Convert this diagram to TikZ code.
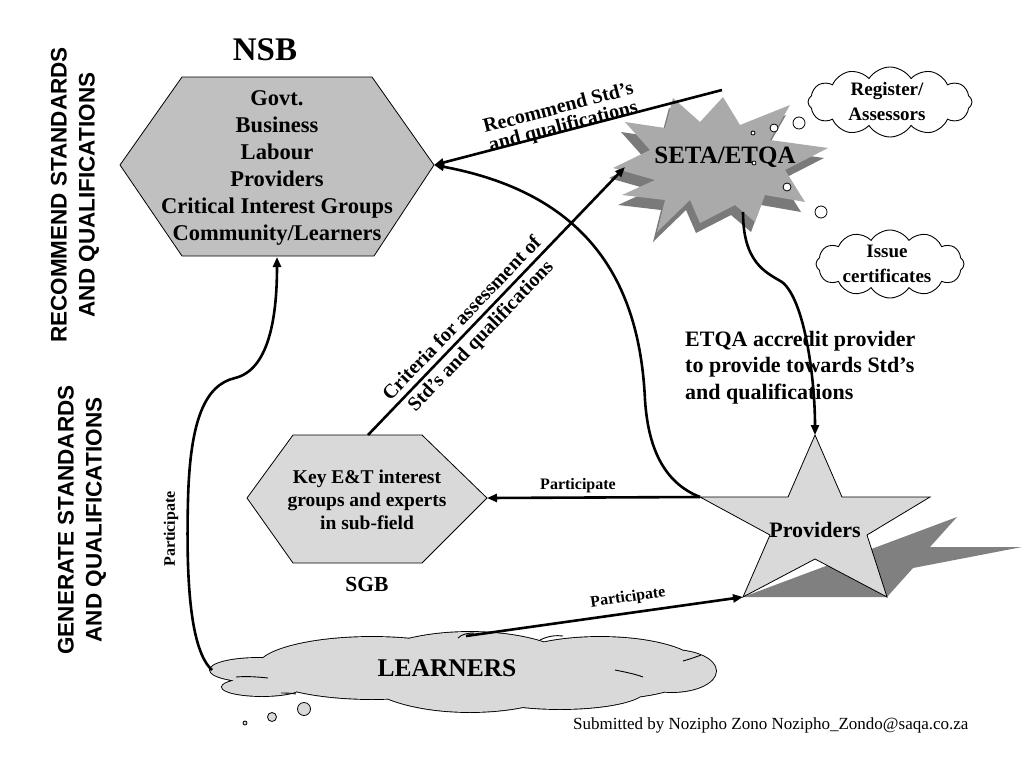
\documentclass[tikz,border=0pt]{standalone}
\usepackage{fontspec}
\setmainfont{Liberation Serif}
\setsansfont{Liberation Sans}
\usetikzlibrary{shapes.symbols,arrows.meta}
\definecolor{hexdark}{HTML}{C0C0C0}
\definecolor{lightfill}{HTML}{D9D9D9}
\definecolor{burstlight}{HTML}{AAAAAA}
\definecolor{burstdark}{HTML}{7A7A7A}
\definecolor{shadowgray}{HTML}{808080}
\newcommand{\fs}[2]{\fontsize{#1}{#2}\selectfont}
\newcommand{\learnlobes}{%
  (258,670) ellipse [x radius=48, y radius=12]
  (262,687) ellipse [x radius=40, y radius=9]
  (372,668) ellipse [x radius=115, y radius=31]
  (470,672) ellipse [x radius=110, y radius=40]
  (600,668) ellipse [x radius=100, y radius=31]
  (672,671) ellipse [x radius=44, y radius=21]
  (560,690) ellipse [x radius=85, y radius=19]}
\begin{document}
\begin{tikzpicture}[x=1pt,y=-1pt,
  conn/.style={line width=2.6pt,-{Triangle[length=10pt,width=8pt]}},
  bt/.style={font=\bfseries, inner sep=0pt},
  cloudbox/.style={shape=cloud, draw, line width=0.9pt, fill=white, cloud puffs=12, cloud puff arc=115, aspect=2.4, inner sep=0pt},
  bubble/.style={draw, line width=0.8pt, fill=white},
  gbubble/.style={draw, line width=0.8pt, fill=lightfill},
  crease/.style={line width=0.9pt},
  sidelbl/.style={font=\sffamily\bfseries\fs{22.5}{28}, align=center, rotate=90, inner sep=0pt}
]
\useasboundingbox (0,0) rectangle (1024,768);

% ---------- side labels ----------
\node[sidelbl] (siderec) at (75,195) {RECOMMEND STANDARDS\\AND QUALIFICATIONS};
\node[sidelbl] (sidegen) at (82,520) {GENERATE STANDARDS\\AND QUALIFICATIONS};

% ---------- NSB ----------
\node[bt, font=\bfseries\fs{33}{36}] (nsbtitle) at (265,50) {NSB};
\path[draw, line width=0.8pt, fill=hexdark] (120,165) -- (182,77) -- (372,77) -- (434,165) -- (374,256) -- (182,256) -- cycle;
\node[bt, font=\bfseries\fs{22.5}{27}, align=center] (nsb) at (277,168)
  {Govt.\\Business\\Labour\\Providers\\Critical Interest Groups\\Community/Learners};
\coordinate (nsbR) at (434,165);
\coordinate (nsbB) at (277,257);

% ---------- SETA / ETQA burst ----------
\begin{scope}[shift={(-4,10)}]
\path[fill=burstdark] (613,168) -- (650,150) -- (625,122) -- (665,128) -- (673,98) -- (700,122) -- (723,97) -- (740,125) -- (790,105) -- (770,140) -- (828,148) -- (785,170) -- (805,202) -- (765,195) -- (755,222) -- (735,205) -- (700,223) -- (690,200) -- (657,232) -- (665,200) -- (622,195) -- (655,180) -- cycle;
\end{scope}
\path[fill=burstlight] (613,168) -- (650,150) -- (625,122) -- (665,128) -- (673,98) -- (700,122) -- (723,97) -- (740,125) -- (790,105) -- (770,140) -- (828,148) -- (785,170) -- (805,202) -- (765,195) -- (755,222) -- (735,205) -- (700,223) -- (690,200) -- (657,232) -- (665,200) -- (622,195) -- (655,180) -- cycle;
\node[bt, font=\bfseries\fs{25}{28}] (seta) at (725,157) {SETA/ETQA};
\coordinate (setaTop) at (722,90);
\coordinate (setaL) at (625,167);
\coordinate (setaB) at (743,212);

% thought bubbles and clouds
\draw[bubble] (753,133) circle (2);
\draw[bubble] (774,128) circle (4);
\draw[bubble] (799,123) circle (6);
\draw[bubble] (754,163) circle (2);
\draw[bubble] (787,187) circle (4);
\draw[bubble] (821,212) circle (6);
\node[cloudbox, minimum width=164, minimum height=70] (reg) at (890,102) {};
\node[bt, font=\bfseries\fs{19}{25}, align=center] (regtxt) at (887,102) {Register/\\Assessors};
\node[cloudbox, minimum width=148, minimum height=68] (iss) at (890,264) {};
\node[bt, font=\bfseries\fs{19}{25}, align=center] (isstxt) at (887,264) {Issue\\certificates};

% ---------- Providers star ----------
\path[fill=shadowgray] (743,597) -- (957,517) -- (930,547) -- (1022,547) -- (913,568) -- (887,597) -- cycle;
\path[draw, line width=0.8pt, fill=lightfill] (815,435) -- (842,497) -- (930,497) -- (867,535) -- (887,597) -- (815,559) -- (743,597) -- (770,535) -- (700,497) -- (788,497) -- cycle;
\node[bt, font=\bfseries\fs{22}{26}] (prov) at (815,530) {Providers};
\coordinate (provT) at (815,435);
\coordinate (provL) at (700,497);
\coordinate (provBL) at (743,597);

% ---------- SGB ----------
\path[draw, line width=0.8pt, fill=lightfill] (247,498) -- (293,435) -- (422,435) -- (487,498) -- (422,563) -- (293,563) -- cycle;
\node[bt, font=\bfseries\fs{19.5}{23}, align=center] (sgb) at (367,500) {Key E\&T interest\\groups and experts\\in sub-field};
\node[bt, font=\bfseries\fs{21.5}{24}] (sgbtitle) at (367,584) {SGB};
\coordinate (sgbT) at (368,435);
\coordinate (sgbR) at (487,498);

% ---------- Learners cloud ----------
\draw[line width=1.8pt] \learnlobes;
\fill[lightfill] \learnlobes;
\draw[crease] (236,677) .. controls (248,676) and (258,677) .. (268,678);
\draw[crease] (281,693) .. controls (286,693) and (290,693) .. (296,694);
\draw[crease] (540,640) .. controls (548,636) and (556,635) .. (563,636);
\draw[crease] (615,670) .. controls (625,672) and (635,674) .. (643,677);
\draw[crease] (683,661) .. controls (690,659) and (696,657) .. (701,655);
\draw[crease] (458,638) .. controls (462,634) and (468,633) .. (474,633);
\node[bt, font=\bfseries\fs{25.5}{28}] (learners) at (447,668) {LEARNERS};
\draw[gbubble] (245,723) circle (2);
\draw[gbubble] (272,717) circle (4.5);
\draw[gbubble] (304,709) circle (6.5);
\coordinate (learnT) at (466,636);
\coordinate (learnL) at (212,670);

% ---------- connectors ----------
\draw[conn] (setaTop) -- (nsbR);
\node[bt, font=\bfseries\fs{20}{19}, align=center, rotate=14.6] (reclbl) at (561,118) {Recommend Std's\\and qualifications};

\draw[conn] (sgbT) -- (setaL);
\node[bt, font=\bfseries\fs{20}{26}, align=center, rotate=46.2] (critlbl) at (472,328) {Criteria for assessment of\\Std's and qualifications};

\draw[conn] (provL) .. controls (662,482) and (648,445) .. (645,400) .. controls (640,290) and (595,195) .. (nsbR);

\draw[conn] (setaB) .. controls (743,262) and (765,272) .. (782,282) .. controls (805,300) and (815,380) .. (provT);
\node[bt, font=\bfseries\fs{22}{26.5}, align=left, anchor=north west] (etqalbl) at (685,331) {ETQA accredit provider\\to provide towards Std's\\and qualifications};

\draw[conn] (provL) -- (sgbR);
\node[bt, font=\bfseries\fs{16}{18}] (partA) at (578,486) {Participate};

\draw[conn] (learnT) -- (provBL);
\node[bt, font=\bfseries\fs{16}{18}, rotate=8.4] (partB) at (628,598) {Participate};

\draw[conn] (learnL) .. controls (190,650) and (186,580) .. (188,500) .. controls (190,420) and (205,385) .. (235,378) .. controls (268,370) and (277,320) .. (nsbB);
\node[bt, font=\bfseries\fs{16}{18}, rotate=90] (partC) at (171,529) {Participate};

% ---------- footer ----------
\node[inner sep=0pt, anchor=west, font=\fs{17}{20}] (footer) at (573,725) {Submitted by Nozipho Zono Nozipho\_Zondo@saqa.co.za};
\end{tikzpicture}
\end{document}
